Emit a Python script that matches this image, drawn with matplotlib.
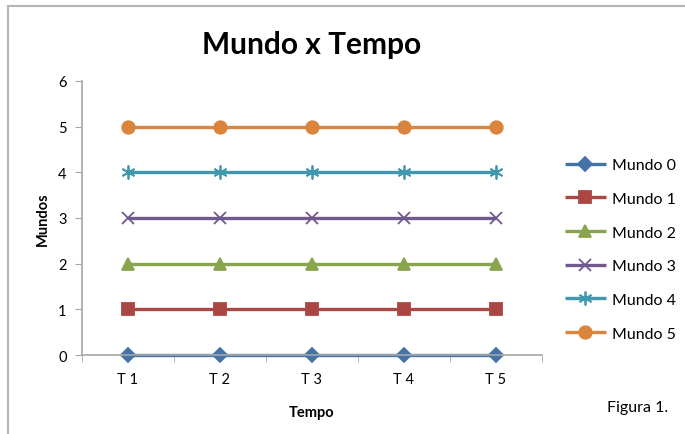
import matplotlib.pyplot as plt
from matplotlib.lines import Line2D

plt.rcParams['font.family'] = ['Lato', 'DejaVu Sans']

tempos = ["T 1", "T 2", "T 3", "T 4", "T 5"]
mundo0 = [0, 0, 0, 0, 0]
mundo1 = [1, 1, 1, 1, 1]
mundo2 = [2, 2, 2, 2, 2]
mundo3 = [3, 3, 3, 3, 3]
mundo4 = [4, 4, 4, 4, 4]
mundo5 = [5, 5, 5, 5, 5]
nomes = ["Mundo 0", "Mundo 1", "Mundo 2", "Mundo 3", "Mundo 4", "Mundo 5"]

series = [mundo0, mundo1, mundo2, mundo3, mundo4, mundo5]
cores = ["#4572A7", "#AA4643", "#89A54E", "#71588F", "#4198AF", "#DB843D"]
marcadores = ["D", "s", "^", "x", (6, 2, 0), "o"]
tamanhos = [7, 8, 9, 9, 10, 9]

fig = plt.figure(figsize=(6.85, 4.35), dpi=100)
ax = fig.add_axes([0.1197, 0.1816, 0.6715, 0.63])

xs = list(range(len(tempos)))
for ys, nome, cor, m, ms in zip(series, nomes, cores, marcadores, tamanhos):
    ax.plot(xs, ys, '-', color=cor, lw=2.4, marker=m, ms=ms,
            mew=1.3, mfc=cor, mec=cor, label=nome, solid_capstyle='butt')

ax.set_xlim(-0.5, len(tempos) - 0.5)
ax.set_ylim(0, 6)
ax.set_yticks(range(0, 7))
ax.set_xticks(xs)
ax.set_xticklabels(tempos)
ax.set_xticks([i - 0.5 for i in range(len(tempos) + 1)], minor=True)
ax.tick_params(axis='x', which='major', length=0, pad=12, labelsize=10.5)
ax.tick_params(axis='x', which='minor', length=5, color='#A6A6A6', direction='out')
ax.tick_params(axis='y', length=5, color='#A6A6A6', direction='out', pad=6, labelsize=10.5)

for s in ['top', 'right']:
    ax.spines[s].set_visible(False)
for s in ['left', 'bottom']:
    ax.spines[s].set_color('#A6A6A6')
    ax.spines[s].set_linewidth(1.2)
for ln in ax.get_lines():
    ln.set_clip_on(False)

ax.set_title("Mundo x Tempo", fontsize=21.5, fontweight='bold', pad=20)
ax.set_xlabel("Tempo", fontsize=10.5, fontweight='bold', labelpad=14)
ax.set_ylabel("Mundos", fontsize=10.5, fontweight='bold', labelpad=6)

leg = ax.legend(loc='center left', bbox_to_anchor=(1.018, 0.385), frameon=False,
                fontsize=11.5, handlelength=2.6, labelspacing=1.22,
                handletextpad=0.35)

fig.text(0.931, 0.062, "Figura 1.", fontsize=11.5, ha='center', va='center')

# moldura cinza do quadro
fig.add_artist(Line2D([0.012, 1.0], [0.984, 0.984], color='#B4B4B4', lw=1.5))
fig.add_artist(Line2D([0.012, 0.012], [0.0, 0.984], color='#B4B4B4', lw=1.5))

plt.savefig("out.png", dpi=100)
